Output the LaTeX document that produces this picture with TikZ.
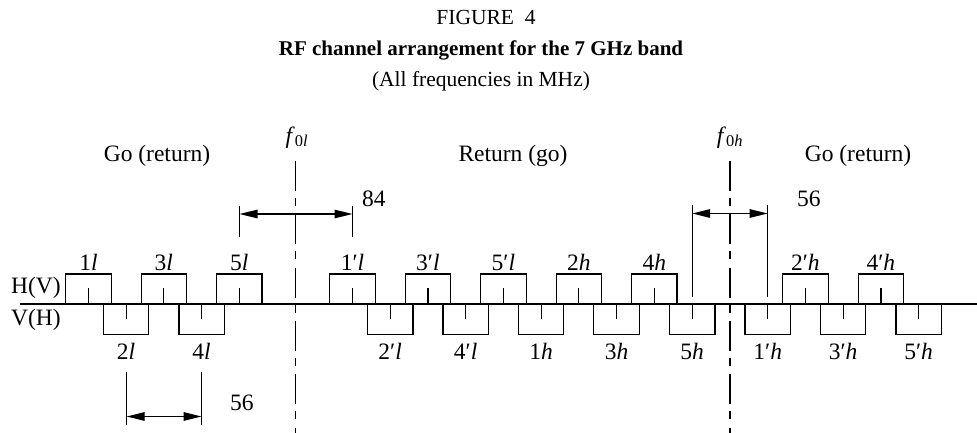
\documentclass[tikz,border=0pt]{standalone}
\usepackage{fontspec}
\setmainfont{Liberation Serif}
\usetikzlibrary{arrows.meta}

\newcommand\bodysize{\fontsize{23.5}{28}\selectfont}
\newcommand\headsize{\fontsize{21.5}{26}\selectfont}
\newcommand\boldheadsize{\fontsize{21}{26}\selectfont}

\tikzset{
  stroke/.style={line width=1.2pt, line cap=butt},
  txt/.style={font=\bodysize, inner sep=0pt, anchor=base},
  txtw/.style={font=\bodysize, inner sep=0pt, anchor=base west},
  dimline/.style={stroke, {Triangle[length=18pt,width=8.5pt]}-{Triangle[length=18pt,width=8.5pt]}},
  centreline/.style={stroke, dash pattern=on 30pt off 7pt on 8pt off 8.3pt},
}

\begin{document}
\begin{tikzpicture}[x=1pt, y=-1pt]
\useasboundingbox (0,0) rectangle (977,433);

% ---- headings
\node[font=\headsize, inner sep=0pt, anchor=base] (fig) at (486,25) {FIGURE\ \ 4};
\node[font=\boldheadsize\bfseries, inner sep=0pt, anchor=base] (title) at (481,56) {RF channel arrangement for the 7 GHz band};
\node[font=\headsize, inner sep=0pt, anchor=base] (sub) at (481,87) {(All frequencies in MHz)};

% ---- direction captions
\node[txt] (goL) at (157,161) {Go (return)};
\node[txt] (ret) at (513,161) {Return (go)};
\node[txt] (goR) at (858,161) {Go (return)};

% ---- polarisation captions
\node[txtw] (hv) at (11,293) {H(V)};
\node[txtw] (vh) at (11,325) {V(H)};

% ---- frequency axis
\coordinate (axL) at (20,304);
\coordinate (axR) at (977,304);
\draw[stroke] (axL) -- (axR);

% ---- centre frequencies
\node[txt] (f0l) at (297,143) {\textit{f}\textsubscript{0\textit{l}}};
\node[txt] (f0h) at (730,143) {\textit{f}\textsubscript{0\textit{h}}};
\coordinate (f0lTop) at (295.3,161);
\coordinate (f0lBot) at (295.3,433);
\coordinate (f0hTop) at (730,161);
\coordinate (f0hBot) at (730,433);
\draw[centreline] (f0lTop) -- (f0lBot);
\draw[centreline] (f0hTop) -- (f0hBot);

% ---- channels: centre / label / 1 = above the axis, 0 = below
\def\hw{22.7}
\foreach \c/\t/\u [count=\i] in {
  88.4/1\textit{l}/1, 126.1/2\textit{l}/0, 163.8/3\textit{l}/1, 201.6/4\textit{l}/0, 239.3/5\textit{l}/1,
  352.5/1′\textit{l}/1, 390.2/2′\textit{l}/0, 427.9/3′\textit{l}/1, 465.7/4′\textit{l}/0, 503.4/5′\textit{l}/1,
  541.1/1\textit{h}/0, 578.8/2\textit{h}/1, 616.5/3\textit{h}/0, 654.3/4\textit{h}/1, 692.2/5\textit{h}/0,
  767.7/1′\textit{h}/0, 805.4/2′\textit{h}/1, 843.1/3′\textit{h}/0, 880.9/4′\textit{h}/1, 918.6/5′\textit{h}/0}
{
  \ifnum\u=1
    \draw[stroke] (\c-\hw,304) -- (\c-\hw,274) -- (\c+\hw,274) -- (\c+\hw,304);
    \draw[stroke] (\c,304) -- (\c,288.3);
    \node[txt] (ch\i) at (\c,270) {\t};
  \else
    \draw[stroke] (\c-\hw,304) -- (\c-\hw,334.3) -- (\c+\hw,334.3) -- (\c+\hw,304);
    \draw[stroke] (\c,304) -- (\c,319.3);
    \node[txt] (ch\i) at (\c,359.5) {\t};
  \fi
}

% ---- 84 MHz dimension (5l to 1'l)
\coordinate (a84t) at (239.5,205.5);
\coordinate (a84b) at (239.5,236.5);
\coordinate (b84t) at (352.5,205.5);
\coordinate (b84b) at (352.5,236.5);
\coordinate (a84) at (239.5,214);
\coordinate (b84) at (352.5,214);
\draw[stroke] (a84t) -- (a84b);
\draw[stroke] (b84t) -- (b84b);
\draw[dimline] (a84) -- (b84);
\node[txtw] (l84) at (362,206) {84};

% ---- 56 MHz dimension (5h to 1'h)
\coordinate (a56t) at (692.2,205);
\coordinate (a56b) at (692.2,297);
\coordinate (b56t) at (767.7,205);
\coordinate (b56b) at (767.7,297);
\coordinate (a56) at (692.2,213.5);
\coordinate (b56) at (767.7,213.5);
\draw[stroke] (a56t) -- (a56b);
\draw[stroke] (b56t) -- (b56b);
\draw[dimline] (a56) -- (b56);
\node[txtw] (l56a) at (797,206) {56};

% ---- 56 MHz dimension (2l to 4l)
\coordinate (c56t) at (126.6,371.5);
\coordinate (c56b) at (126.6,425);
\coordinate (d56t) at (201.6,371.5);
\coordinate (d56b) at (201.6,425);
\coordinate (c56) at (126.6,416.5);
\coordinate (d56) at (201.6,416.5);
\draw[stroke] (c56t) -- (c56b);
\draw[stroke] (d56t) -- (d56b);
\draw[dimline] (c56) -- (d56);
\node[txtw] (l56b) at (230,410) {56};

\end{tikzpicture}
\end{document}
